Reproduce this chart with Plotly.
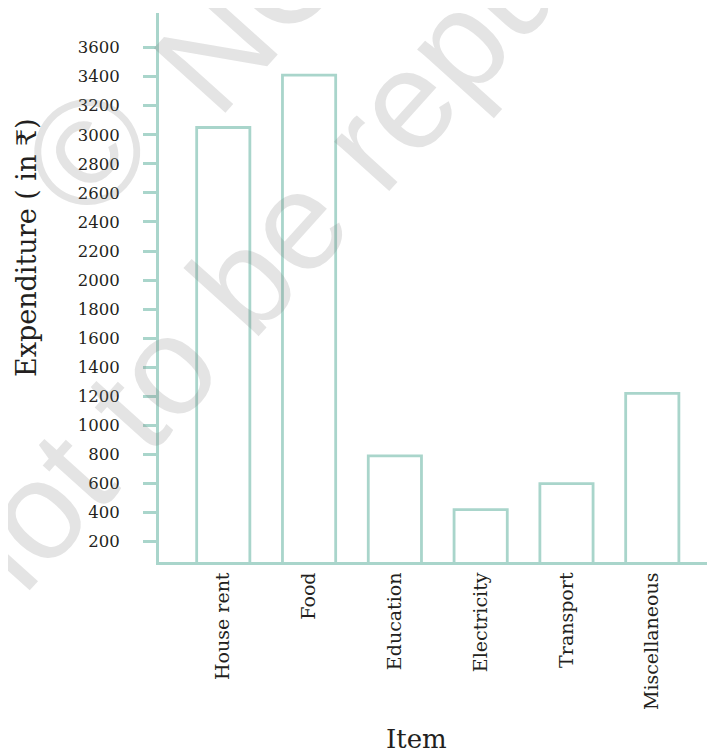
import plotly.graph_objects as go

# ---- data ----
items = ["House rent", "Food", "Education", "Electricity", "Transport", "Miscellaneous"]
expenditure = [3050, 3410, 790, 420, 600, 1220]
y_ticks = [200, 400, 600, 800, 1000, 1200, 1400, 1600, 1800, 2000,
           2200, 2400, 2600, 2800, 3000, 3200, 3400, 3600]

TEAL = "#a9d5cb"
TEXT = "#231f20"
SERIF = "DejaVu Serif"
WM = "rgba(120,120,120,0.2)"

OFF = 8                      # page body margin in the browser
W, H = 715 - OFF, 755 - OFF
L, R, T, B = 159 - OFF, 0, 13 - OFF, 755 - 562
PW, PH = W - L - R, H - T - B


def px(sx):
    """screen x -> paper x"""
    return (sx - OFF - L) / PW


def py(sy):
    """screen y -> paper y"""
    return (H - B - (sy - OFF)) / PH


fig = go.Figure()
fig.add_trace(go.Bar(
    x=items, y=expenditure, width=0.62,
    marker=dict(color="rgba(255,255,255,0)", line=dict(color=TEAL, width=2.8)),
    hoverinfo="x+y",
))

annotations = [
    dict(text="Expenditure ( in ₹)", x=px(27), y=py(248), xref="paper", yref="paper",
         textangle=-90, showarrow=False, xanchor="center", yanchor="middle",
         font=dict(family=SERIF, size=27, color=TEXT)),
    dict(text="Item", x=px(416), y=py(739), xref="paper", yref="paper",
         showarrow=False, xanchor="center", yanchor="middle",
         font=dict(family=SERIF, size=26, color=TEXT)),
    # watermark
    dict(text="©", x=px(87), y=py(152), xref="paper", yref="paper",
         textangle=-48, showarrow=False, xanchor="center", yanchor="middle",
         font=dict(family="Liberation Sans", size=150, color=WM)),
    dict(text="NCERT", x=px(342), y=py(-90), xref="paper", yref="paper",
         textangle=-48, showarrow=False, xanchor="center", yanchor="middle",
         font=dict(family="Liberation Sans", size=140, color=WM)),
    dict(text="not to be republished", x=px(394), y=py(114), xref="paper", yref="paper",
         textangle=-48, showarrow=False, xanchor="center", yanchor="middle",
         font=dict(family="Liberation Sans", size=140, color=WM)),
]

fig.update_layout(
    width=W, height=H,
    margin=dict(l=L, r=R, t=T, b=B, pad=0),
    paper_bgcolor="white", plot_bgcolor="white",
    showlegend=False,
    annotations=annotations,
    font=dict(family=SERIF, color=TEXT),
)
fig.update_xaxes(
    type="category", range=[-0.749, 5.731],
    showline=True, linecolor=TEAL, linewidth=2.8,
    ticks="", showgrid=False, zeroline=False,
    tickangle=-90, tickfont=dict(family=SERIF, size=19, color=TEXT),
    ticklabelstandoff=0,
)
fig.update_yaxes(
    range=[60, 3838], tickvals=y_ticks,
    showline=True, linecolor=TEAL, linewidth=2.8,
    ticks="outside", ticklen=13, tickwidth=2.8, tickcolor=TEAL,
    showgrid=False, zeroline=False,
    tickfont=dict(family=SERIF, size=16.5, color=TEXT),
    ticklabelstandoff=20,
)

fig.write_html("out.html")
